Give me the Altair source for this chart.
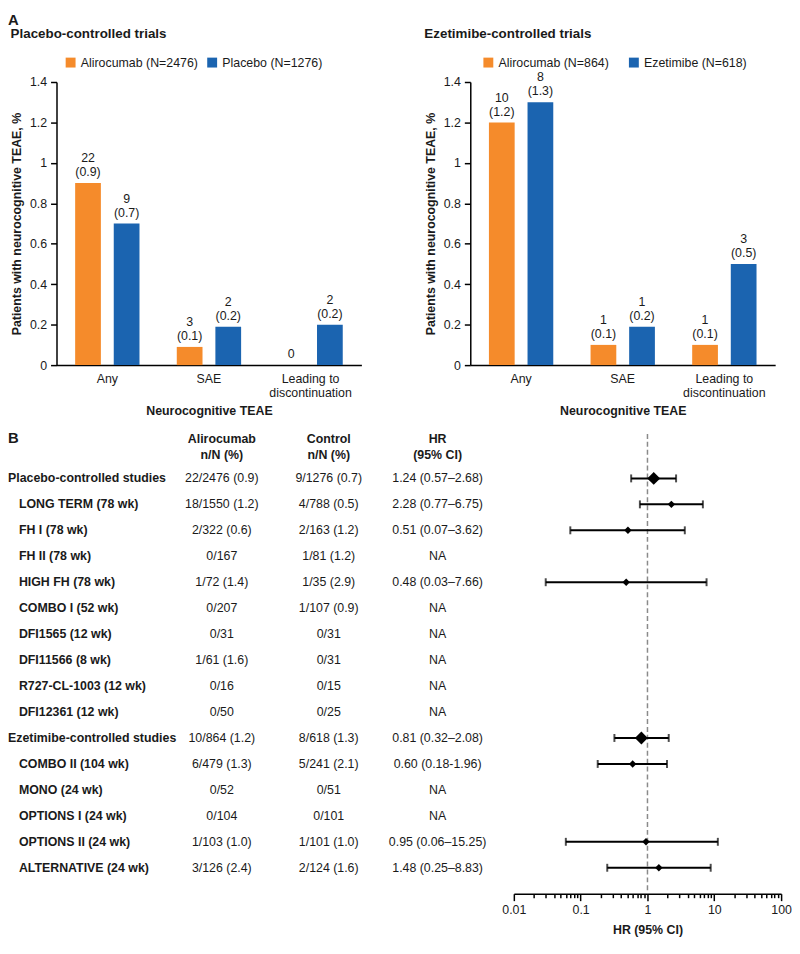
import altair as alt
import pandas as pd

FONT = "Liberation Sans"
INK = "#1a1a1a"
ORANGE = "#F58B2B"
BLUE = "#1B64B0"

# ---------------- Panel A data ----------------
categories = ["Any", "SAE", "Leading to discontinuation"]

placebo_groups = ["Alirocumab (N=2476)", "Placebo (N=1276)"]
placebo_alirocumab = [0.9, 0.09, 0.0]
placebo_control = [0.7, 0.19, 0.2]
placebo_alirocumab_n = ["22", "3", "0"]
placebo_alirocumab_pct = ["(0.9)", "(0.1)", ""]
placebo_control_n = ["9", "2", "2"]
placebo_control_pct = ["(0.7)", "(0.2)", "(0.2)"]

ezetimibe_groups = ["Alirocumab (N=864)", "Ezetimibe (N=618)"]
ezetimibe_alirocumab = [1.2, 0.1, 0.1]
ezetimibe_control = [1.3, 0.19, 0.5]
ezetimibe_alirocumab_n = ["10", "1", "1"]
ezetimibe_alirocumab_pct = ["(1.2)", "(0.1)", "(0.1)"]
ezetimibe_control_n = ["8", "1", "3"]
ezetimibe_control_pct = ["(1.3)", "(0.2)", "(0.5)"]

y_ticks = [0, 0.2, 0.4, 0.6, 0.8, 1.0, 1.2, 1.4]

# ---------------- Panel B data ----------------
studies = ["Placebo-controlled studies", "LONG TERM (78 wk)", "FH I (78 wk)", "FH II (78 wk)",
           "HIGH FH (78 wk)", "COMBO I (52 wk)", "DFI1565 (12 wk)", "DFI11566 (8 wk)",
           "R727-CL-1003 (12 wk)", "DFI12361 (12 wk)", "Ezetimibe-controlled studies",
           "COMBO II (104 wk)", "MONO (24 wk)", "OPTIONS I (24 wk)", "OPTIONS II (24 wk)",
           "ALTERNATIVE (24 wk)"]
is_pooled = [True, False, False, False, False, False, False, False, False, False,
             True, False, False, False, False, False]
alirocumab_col = ["22/2476 (0.9)", "18/1550 (1.2)", "2/322 (0.6)", "0/167", "1/72 (1.4)", "0/207",
                  "0/31", "1/61 (1.6)", "0/16", "0/50", "10/864 (1.2)", "6/479 (1.3)", "0/52",
                  "0/104", "1/103 (1.0)", "3/126 (2.4)"]
control_col = ["9/1276 (0.7)", "4/788 (0.5)", "2/163 (1.2)", "1/81 (1.2)", "1/35 (2.9)",
               "1/107 (0.9)", "0/31", "0/31", "0/15", "0/25", "8/618 (1.3)", "5/241 (2.1)",
               "0/51", "0/101", "1/101 (1.0)", "2/124 (1.6)"]
hr_col = ["1.24 (0.57\u20132.68)", "2.28 (0.77\u20136.75)", "0.51 (0.07\u20133.62)", "NA",
          "0.48 (0.03\u20137.66)", "NA", "NA", "NA", "NA", "NA", "0.81 (0.32\u20132.08)",
          "0.60 (0.18-1.96)", "NA", "NA", "0.95 (0.06\u201315.25)", "1.48 (0.25\u20138.83)"]
hr = [1.24, 2.28, 0.51, None, 0.48, None, None, None, None, None, 0.81, 0.60, None, None, 0.95, 1.48]
hr_lo = [0.57, 0.77, 0.07, None, 0.03, None, None, None, None, None, 0.32, 0.18, None, None, 0.06, 0.25]
hr_hi = [2.68, 6.75, 3.62, None, 7.66, None, None, None, None, None, 2.08, 1.96, None, None, 11.3, 8.83]
hr_decades = [0.01, 0.1, 1, 10, 100]
headers = ["Alirocumab\nn/N (%)", "Control\nn/N (%)", "HR\n(95% CI)"]

FS = 12.5


def bar_panel(title, groups, aliro, ctrl, a_n, a_pct, c_n, c_pct, col_pad, legend_x):
    df = pd.DataFrame({
        "category": categories * 2,
        "group": [groups[0]] * 3 + [groups[1]] * 3,
        "value": aliro + ctrl,
        "n": a_n + c_n,
        "pct": a_pct + c_pct,
    })
    x = alt.X("category:N", sort=categories,
              scale=alt.Scale(paddingInner=0, paddingOuter=0),
              axis=alt.Axis(title="Neurocognitive TEAE", labelAngle=0, ticks=False, tickSize=0,
                            labelPadding=8, labelLineHeight=14,
                            labelExpr="datum.label == 'Leading to discontinuation' ? ['Leading to', 'discontinuation'] : datum.label",
                            titlePadding=5, domainColor="#000", domainWidth=1.5))
    xo = alt.XOffset("group:N", sort=groups, scale=alt.Scale(paddingInner=1 / 3, paddingOuter=0.483))
    y = alt.Y("value:Q", scale=alt.Scale(domain=[0, 1.4], nice=False),
              axis=alt.Axis(values=y_ticks, format=".1~f", title="Patients with neurocognitive TEAE, %",
                            tickSize=6, labelPadding=4, titlePadding=6, domainColor="#000",
                            tickColor="#000", domainWidth=1.5, tickWidth=1.5, grid=False))
    bars = alt.Chart(df).mark_bar().encode(
        x=x, xOffset=xo, y=y,
        color=alt.Color("group:N", sort=groups, scale=alt.Scale(domain=groups, range=[ORANGE, BLUE]),
                        legend=alt.Legend(title=None, orient="none", legendX=legend_x, legendY=-26,
                                          direction="horizontal", symbolType="square", symbolSize=100,
                                          symbolStrokeWidth=0, labelFontSize=FS, columnPadding=col_pad,
                                          padding=0, labelOffset=4)))
    lower = alt.Chart(df).transform_calculate(
        t="datum.pct != '' ? datum.pct : datum.n"
    ).mark_text(baseline="bottom", dy=-4, fontSize=FS).encode(x=x, xOffset=xo, y=y, text="t:N")
    upper = alt.Chart(df).transform_filter("datum.pct != ''").mark_text(
        baseline="bottom", dy=-18, fontSize=FS).encode(x=x, xOffset=xo, y=y, text="n:N")
    return alt.layer(bars, lower, upper).properties(
        width=308, height=286,
        title=alt.TitleParams(title, anchor="start", fontSize=13.5, fontWeight="bold",
                              frame="bounds", baseline="alphabetic", offset=5))


barL = bar_panel("Placebo-controlled trials", placebo_groups, placebo_alirocumab, placebo_control,
                 placebo_alirocumab_n, placebo_alirocumab_pct, placebo_control_n, placebo_control_pct, 8, 8)
barR = bar_panel("Ezetimibe-controlled trials", ezetimibe_groups, ezetimibe_alirocumab, ezetimibe_control,
                 ezetimibe_alirocumab_n, ezetimibe_alirocumab_pct, ezetimibe_control_n, ezetimibe_control_pct,
                 18, 12)

top = alt.hconcat(barL, barR, spacing=63).resolve_scale(
    color="independent", x="independent", y="independent", xOffset="independent"
).resolve_legend(color="independent")

# ---------------- Panel B ----------------
ROW_DOMAIN = [-2, 16]
STEP = 26.2
H = round(STEP * (ROW_DOMAIN[1] - ROW_DOMAIN[0]))
yscale = alt.Scale(domain=ROW_DOMAIN, reverse=True, nice=False, zero=False, padding=0)

tdf = pd.DataFrame({
    "row": list(range(len(studies))),
    "study": studies,
    "pooled": is_pooled,
    "ali": alirocumab_col,
    "ctl": control_col,
    "hrt": hr_col,
    "hr": hr,
    "lo": hr_lo,
    "hi": hr_hi,
})

Yrow = alt.Y("row:Q", scale=yscale, axis=None)

def col_text(field, xpx, align="center", bold=False, filt=None):
    c = alt.Chart(tdf)
    if filt is not None:
        c = c.transform_filter(filt)
    return c.mark_text(align=align, baseline="middle", fontSize=FS,
                       fontWeight="bold" if bold else "normal").encode(
        x=alt.value(xpx), y=Yrow, text=f"{field}:N")

hdr_x = [167, 275, 385]
hdr_layers = [
    alt.Chart(pd.DataFrame({"row": [-1.5], "t": [h]})).mark_text(
        align="center", baseline="middle", fontSize=FS, fontWeight="bold", lineBreak="\n", lineHeight=16
    ).encode(x=alt.value(px), y=Yrow, text="t:N")
    for h, px in zip(headers, hdr_x)
]
b_label = alt.Chart(pd.DataFrame({"row": [-1.56], "t": ["B"]})).mark_text(
    align="left", baseline="middle", fontSize=15, fontWeight="bold"
).encode(x=alt.value(-49), y=Yrow, text="t:N")

table = alt.layer(
    b_label, *hdr_layers,
    col_text("study", -49, align="left", bold=True, filt="datum.pooled"),
    col_text("study", -38, align="left", bold=True, filt="!datum.pooled"),
    col_text("ali", 167),
    col_text("ctl", 275),
    col_text("hrt", 385),
).properties(width=449, height=H)

xs = alt.Scale(type="log", domain=[0.01, 100], nice=False, padding=0)
tick_test = " || ".join(f"abs(datum.value - {v}) < {v * 1e-6}" for v in hr_decades)
xaxis = alt.Axis(title="HR (95% CI)", tickCount=5, labelFlush=False, grid=False,
                 tickSize={"condition": {"test": tick_test, "value": 7}, "value": 4},
                 domainColor="#000", tickColor="#000", domainWidth=1.5, tickWidth=1.5,
                 labelPadding=3, titlePadding=8)

fdf = alt.Chart(tdf).transform_filter("isValid(datum.hr)")
vline = alt.Chart(pd.DataFrame({"ref": [1], "top": [-1.713], "bot": [16]})).mark_rule(
    color="#8a8a8a", strokeDash=[5, 3], strokeWidth=1.5).encode(
    x=alt.X("ref:Q", scale=xs, axis=xaxis), y=alt.Y("top:Q", scale=yscale, axis=None), y2="bot:Q")
ci = fdf.mark_rule(color="#000", strokeWidth=2).encode(
    x=alt.X("lo:Q", scale=xs, axis=xaxis), x2="hi:Q", y=Yrow)
cap_lo = fdf.mark_tick(orient="vertical", size=8, thickness=2, color="#000").encode(
    x=alt.X("lo:Q", scale=xs), y=Yrow)
cap_hi = fdf.mark_tick(orient="vertical", size=8, thickness=2, color="#000").encode(
    x=alt.X("hi:Q", scale=xs), y=Yrow)
pts = fdf.mark_point(shape="diamond", filled=True, opacity=1, color="#000").encode(
    x=alt.X("hr:Q", scale=xs), y=Yrow,
    size=alt.Size("pooled:N", scale=alt.Scale(domain=[True, False], range=[170, 56]), legend=None))

forest = alt.layer(vline, ci, cap_lo, cap_hi, pts).properties(width=270, height=H)

bottom = alt.hconcat(table, forest, spacing=0).resolve_scale(y="independent", x="independent")

chart = alt.vconcat(top, bottom, spacing=10).properties(
    padding=0,
    title=alt.TitleParams("A", anchor="start", fontSize=15, fontWeight="bold", frame="bounds",
                          baseline="alphabetic", offset=-13),
).configure_view(stroke=None).configure_axis(
    labelFont=FONT, titleFont=FONT, labelFontSize=FS, titleFontSize=FS, titleFontWeight="bold",
    labelColor=INK, titleColor=INK
).configure_legend(labelFont=FONT, labelColor=INK).configure_text(
    font=FONT, color=INK
).configure_title(font=FONT, color=INK)

chart.save("out.html", embed_options={"renderer": "svg", "actions": False})
